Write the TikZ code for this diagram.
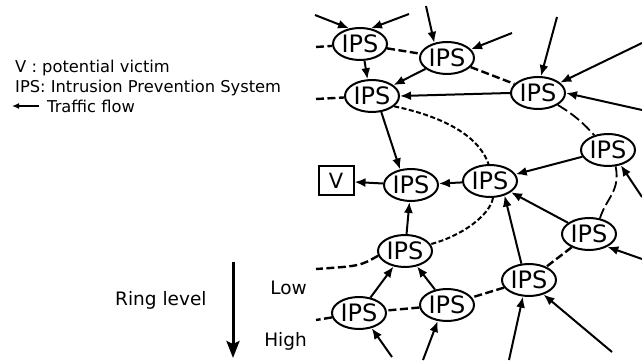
\documentclass[tikz,border=0pt]{standalone}
\usepackage{fontspec}
\setmainfont{DejaVu Sans}
\usetikzlibrary{arrows.meta,shapes.geometric}
\begin{document}
\begin{tikzpicture}[x=1pt,y=-1pt,
 ips/.style={ellipse,draw,line width=2pt,minimum width=54pt,minimum height=32pt,inner sep=0pt,font=\fontsize{24}{24}\selectfont},
 flow/.style={line width=2pt,-{Latex[length=11pt,width=9pt]}},
 ringA/.style={line width=2.4pt,dash pattern=on 8pt off 3.5pt},
 ringB/.style={line width=1.8pt,dash pattern=on 11pt off 4pt},
 ringC/.style={line width=2pt,dash pattern=on 5pt off 2.5pt},
 lab/.style={font=\fontsize{16.3}{19}\selectfont,inner sep=0pt,anchor=base west},
 ringlab/.style={font=\fontsize{18.5}{20}\selectfont,inner sep=0pt}
]
\useasboundingbox (0,0) rectangle (642,363);

% nodes
\node[ips] (A) at (360,44) {IPS};
\node[ips] (B) at (447,58) {IPS};
\node[ips] (C) at (372,96) {IPS};
\node[ips] (D) at (538,93) {IPS};
\node[ips] (E) at (608,150) {IPS};
\node[ips] (F) at (490,181) {IPS};
\node[ips] (G) at (411,185) {IPS};
\node[ips] (H) at (589,234) {IPS};
\node[ips] (I) at (405,251) {IPS};
\node[ips] (J) at (529,280) {IPS};
\node[ips] (K) at (359,313) {IPS};
\node[ips] (L) at (447,305) {IPS};
\node[draw,line width=2pt,minimum width=35pt,minimum height=29pt,inner sep=0pt,font=\fontsize{21}{21}\selectfont] (V) at (336,181) {V};

% free ends
\coordinate (a1) at (315,15);
\coordinate (a2) at (409,14);
\coordinate (b1) at (426,6);
\coordinate (b2) at (512,33);
\coordinate (d1) at (557,17);
\coordinate (d2) at (642,43);
\coordinate (d3) at (642,110);
\coordinate (e1) at (642,197);
\coordinate (h1) at (642,259);
\coordinate (j1) at (509,360);
\coordinate (j2) at (612,352);
\coordinate (k1) at (392,357);
\coordinate (l1) at (423,360);
\coordinate (a0) at (316,47);
\coordinate (c0) at (316,99);
\coordinate (i0) at (316,269);
\coordinate (k0) at (316,320);

% rings
\draw[ringA] (a0) -- (A);
\draw[ringA] (A) -- (B);
\draw[ringA] (B) -- (D);
\draw[ringB] (D) to[bend left=8] (E);
\draw[ringB] (E.-65) .. controls +(5,25) and +(6,-20) .. (H.55);
\draw[ringA] (H) -- (J);
\draw[ringA] (J) -- (L);
\draw[ringA] (L) -- (K);
\draw[ringA] (K) -- (k0);
\draw[ringA] (c0) -- (C);
\draw[ringC] (C.-25) .. controls (440,116) and (478,134) .. (F.95);
\draw[ringC] (F.-80) .. controls (490,215) and (462,236) .. (I.15);
\draw[ringA] (I.190) .. controls (360,266) .. (i0);

% flows
\draw[flow] (a1) -- (A.125);
\draw[flow] (a2) -- (A.55);
\draw[flow] (b1) -- (B.130);
\draw[flow] (b2) -- (B.20);
\draw[flow] (d1) -- (D.80);
\draw[flow] (d2) -- (D.25);
\draw[flow] (d3) -- (D.0);
\draw[flow] (e1) -- (E.-50);
\draw[flow] (h1) -- (H.-35);
\draw[flow] (j1) -- (J.-110);
\draw[flow] (j2) -- (J.-45);
\draw[flow] (k1) -- (K.-50);
\draw[flow] (l1) -- (L.-120);
\draw[flow] (A.-75) -- (C.105);
\draw[flow] (B) -- (C);
\draw[flow] (D.west) -- (C.east);
\draw[flow] (C.-60) -- (G.125);
\draw[flow] (G) -- (V);
\draw[flow] (F) -- (G);
\draw[flow] (E) -- (F);
\draw[flow] (H) -- (F);
\draw[flow] (J.115) -- (F.-45);
\draw[flow] (I) -- (G);
\draw[flow] (K) -- (I);
\draw[flow] (L) -- (I);

% legend
\node[lab] (t1) at (15,72.7) {V : potential victim};
\node[lab] (t2) at (15,92.7) {IPS: Intrusion Prevention System};
\node[lab] (t3) at (47,112.7) {Traffic flow};
\coordinate (lg1) at (39,106);
\coordinate (lg2) at (12,106);
\draw[line width=1.5pt,-{Latex[length=7pt,width=6pt]}] (lg1) -- (lg2);

% ring level
\node[ringlab,anchor=base west] (rl) at (115,305) {Ring level};
\node[ringlab,anchor=base east] (lo) at (307,294) {Low};
\node[ringlab,anchor=base east] (hi) at (307,346) {High};
\coordinate (r1) at (233,262);
\coordinate (r2) at (233,358);
\draw[line width=3pt,-{Stealth[length=17pt,width=13pt,inset=3pt]}] (r1) -- (r2);
\end{tikzpicture}
\end{document}
